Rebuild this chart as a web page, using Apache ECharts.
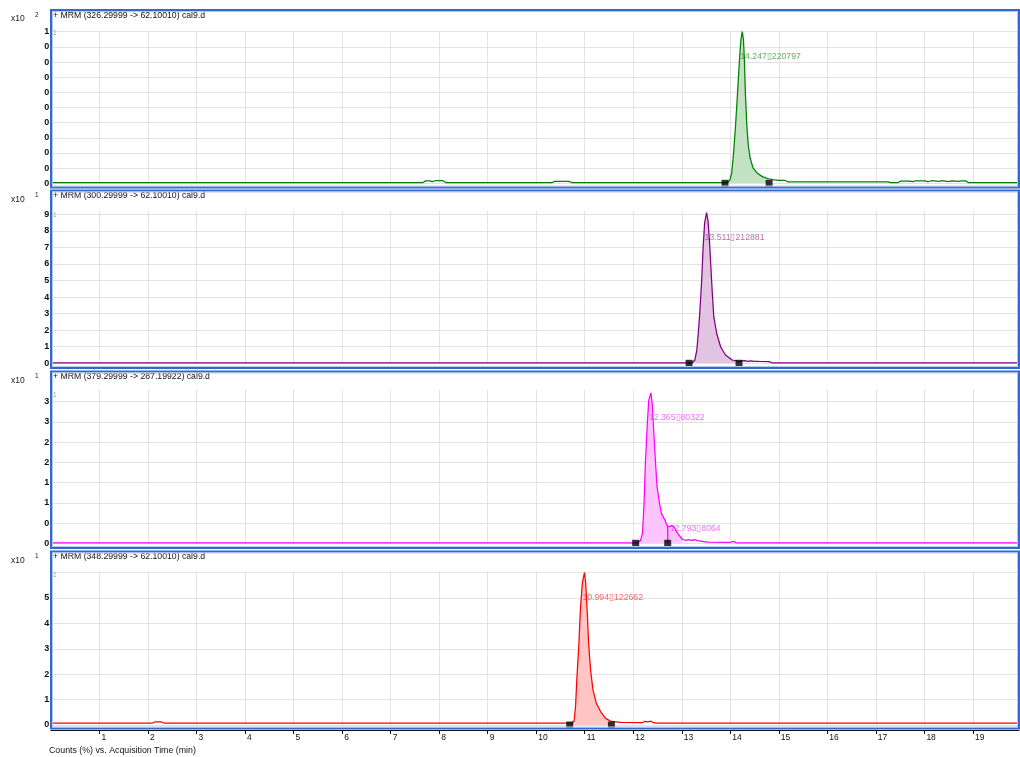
<!DOCTYPE html>
<html><head><meta charset="utf-8">
<script src="https://cdn.jsdelivr.net/npm/echarts@6/dist/echarts.min.js"></script>
<style>html,body{margin:0;padding:0;background:#fff}#c{width:1020px;height:757px}</style>
</head><body><div id="c"></div>
<script>
// ---------------- data ----------------
const panelTitles = [
  '+ MRM (326.29999 -> 62.10010) cal9.d',
  '+ MRM (300.29999 -> 62.10010) cal9.d',
  '+ MRM (379.29999 -> 287.19922) cal9.d',
  '+ MRM (348.29999 -> 62.10010) cal9.d'
];
const yExponents = ['2', '1', '1', '1'];
const xAxisTitle = 'Counts (%) vs. Acquisition Time (min)';
const xTickValues = [1,2,3,4,5,6,7,8,9,10,11,12,13,14,15,16,17,18,19];
const xTickLabels = ['1','2','3','4','5','6','7','8','9','10','11','12','13','14','15','16','17','18','19'];

const yTicks1 = [0,0.1,0.2,0.3,0.4,0.5,0.6,0.7,0.8,0.9,1.0];
const yTickLabels1 = ['0','0','0','0','0','0','0','0','0','0','1'];
const yTicks2 = [0,1,2,3,4,5,6,7,8,9];
const yTickLabels2 = ['0','1','2','3','4','5','6','7','8','9'];
const yTicks3 = [0,0.5,1,1.5,2,2.5,3,3.5];
const yTickLabels3 = ['0','0','1','1','2','2','3','3'];
const yTicks4 = [0,1,2,3,4,5,6];
const yTickLabels4 = ['0','1','2','3','4','5',''];

const trace1 = [[0,0.004],[7.66,0.004],[7.72,0.016],[7.8,0.016],[7.86,0.011],[7.92,0.017],[8.08,0.017],[8.14,0.004],
  [10.32,0.004],[10.38,0.013],[10.68,0.013],[10.74,0.004],
  [13.93,0.004],[13.99,0.02],[14.03,0.07],[14.07,0.21],[14.11,0.39],[14.15,0.6],[14.19,0.82],[14.22,0.95],[14.247,1.0],
  [14.27,0.95],[14.29,0.82],[14.31,0.6],[14.34,0.385],[14.37,0.25],[14.41,0.165],[14.47,0.1],[14.56,0.066],[14.66,0.044],
  [14.79,0.03],[14.9,0.022],[15.0,0.02],[15.12,0.02],[15.18,0.01],[17.25,0.009],[17.31,0.004],[17.45,0.004],
  [17.51,0.015],[17.7,0.015],[17.76,0.011],[17.82,0.016],[18.02,0.016],[18.08,0.01],[18.14,0.017],[18.3,0.012],[18.36,0.017],
  [18.5,0.011],[18.56,0.016],[18.7,0.012],[18.76,0.016],[18.85,0.016],[18.91,0.004],[19.95,0.004]];
const trace2 = [[0,0.02],[13.21,0.02],[13.27,0.2],[13.31,0.8],[13.34,1.8],[13.37,3.0],[13.41,5.0],[13.44,7.0],[13.47,8.45],
  [13.511,9.1],[13.54,8.65],[13.57,7.45],[13.6,5.8],[13.63,4.2],[13.66,2.8],[13.72,1.8],[13.8,1.0],[13.9,0.5],[14.04,0.2],
  [14.18,0.1],[14.24,0.15],[14.3,0.16],[14.36,0.12],[14.42,0.15],[14.5,0.12],[14.6,0.11],[14.8,0.1],[14.86,0.02],[19.95,0.02]];
const trace3 = [[0,0.012],[12.09,0.012],[12.15,0.07],[12.19,0.25],[12.22,0.9],[12.25,1.98],[12.29,2.97],[12.32,3.54],[12.365,3.72],
  [12.39,3.46],[12.42,2.8],[12.46,1.98],[12.49,1.4],[12.54,0.99],[12.58,0.74],[12.65,0.58],[12.7,0.43],[12.745,0.41],
  [12.793,0.44],[12.84,0.41],[12.91,0.25],[13.01,0.1],[13.08,0.07],[13.14,0.09],[13.2,0.07],[13.26,0.09],[13.34,0.06],[13.53,0.03],
  [14.0,0.02],[14.06,0.05],[14.12,0.012],[19.95,0.012]];
const trace4 = [[0,0.07],[2.08,0.07],[2.14,0.12],[2.28,0.12],[2.34,0.07],[10.72,0.07],[10.78,0.15],[10.81,0.72],[10.84,1.9],
  [10.88,3.22],[10.91,4.53],[10.95,5.58],[10.994,6.0],[11.02,5.58],[11.05,4.53],[11.08,3.22],[11.12,2.17],[11.17,1.38],[11.24,0.85],
  [11.33,0.52],[11.43,0.26],[11.55,0.14],[11.74,0.1],[12.18,0.09],[12.24,0.14],[12.3,0.12],[12.36,0.15],[12.42,0.09],[12.5,0.07],[19.95,0.07]];

const peakRT1 = [14.247], peakArea1 = ['220797'], peakHeight1 = [1.0];
const peakRT2 = [13.511], peakArea2 = ['212881'], peakHeight2 = [9.1];
const peakRT3 = [12.365, 12.793], peakArea3 = ['80322', '8064'], peakHeight3 = [3.72, 0.44];
const peakRT4 = [10.994], peakArea4 = ['122662'], peakHeight4 = [6.0];

const markers1 = [[13.89,0],[14.80,0]];
const markers2 = [[13.15,0],[14.18,0]];
const markers3 = [[12.05,0],[12.71,0]];
const markers4 = [[10.69,0],[11.55,0]];
const fillWindow1 = [13.89,14.80];
const fillWindow2 = [13.15,14.18];
const fillWindow3 = [12.05,13.01];
const fillWindow4 = [10.69,11.55];
const dropLine3 = [[12.71,0],[12.71,0.42]];

// ---------------- layout / style ----------------
const FONT = "'Liberation Sans', Arial, sans-serif";
const gridTop = [31.7, 211.0, 389.6, 571.3];
const gridH = [151.6, 152.3, 153.7, 153.7];
const yMax = [1.0, 9.2, 3.8, 6.05];
const yInterval = [0.1, 1, 0.5, 1];
const frameTop = [10, 190.5, 371.5, 551.5];
const frameBottom = [187.5, 368, 548, 728.5];
const greyOneY = [33.5, 215.7, 395, 575];
const lineColor = ['#008000', '#800080', '#ff00ff', '#ff0000'];
const fillColor = ['#c2e2c2', '#e2c4e2', '#ffc4ff', '#ffc4c4'];
const labelColor = ['#3c9a3c', '#a04ca0', '#ff44ff', '#ff3c3c'];
const LABEL_FRAC = 0.835;

const panels = [
  {trace: trace1, rt: peakRT1, area: peakArea1, h: peakHeight1, markers: markers1, win: fillWindow1, ticks: yTicks1, tl: yTickLabels1},
  {trace: trace2, rt: peakRT2, area: peakArea2, h: peakHeight2, markers: markers2, win: fillWindow2, ticks: yTicks2, tl: yTickLabels2},
  {trace: trace3, rt: peakRT3, area: peakArea3, h: peakHeight3, markers: markers3, win: fillWindow3, ticks: yTicks3, tl: yTickLabels3, drop: dropLine3},
  {trace: trace4, rt: peakRT4, area: peakArea4, h: peakHeight4, markers: markers4, win: fillWindow4, ticks: yTicks4, tl: yTickLabels4}
];

const grids = [], xAxes = [], yAxes = [], series = [], graphics = [], titles = [];
panels.forEach((p, i) => {
  grids.push({left: 51, right: 1, top: gridTop[i], height: gridH[i], containLabel: false, outerBoundsMode: 'none'});
  const isLast = i === panels.length - 1;
  xAxes.push({
    type: 'value', gridIndex: i, min: 0, max: 19.95, interval: 1,
    position: 'bottom', offset: isLast ? 5.5 : 0,
    axisLine: {show: isLast, onZero: false, lineStyle: {color: '#111', width: 1.2}},
    axisTick: {show: isLast, length: 3.5, lineStyle: {color: '#111'}},
    axisLabel: {show: isLast, showMinLabel: false, showMaxLabel: false, margin: 2.5, align: 'left', padding: [0,0,0,2],
      fontSize: 8.5, color: '#111', fontFamily: FONT,
      formatter: v => { const k = xTickValues.findIndex(t => Math.abs(t - v) < 1e-6); return k >= 0 ? xTickLabels[k] : ''; }},
    splitLine: {show: true, lineStyle: {color: '#e3e3e3', width: 1}}
  });
  yAxes.push({
    type: 'value', gridIndex: i, min: 0, max: yMax[i], interval: yInterval[i], offset: 2.5,
    axisLine: {show: true, lineStyle: {color: '#111', width: 1.6}},
    axisTick: {show: false},
    axisLabel: {margin: -0.8, fontSize: 9, fontWeight: 'bold', color: '#111', fontFamily: FONT, showMaxLabel: i === 0,
      formatter: v => { const k = p.ticks.findIndex(t => Math.abs(t - v) < 1e-6); return k >= 0 ? p.tl[k] : ''; }},
    splitLine: {show: true, showMaxLine: i === 0, lineStyle: {color: '#e3e3e3', width: 1}}
  });
  // integration fill
  const fillData = [[p.win[0], 0]].concat(p.trace.filter(d => d[0] >= p.win[0] && d[0] <= p.win[1])).concat([[p.win[1], 0]]);
  series.push({type: 'line', xAxisIndex: i, yAxisIndex: i, data: fillData, showSymbol: false, silent: true, z: 1,
    lineStyle: {width: 0, opacity: 0}, areaStyle: {color: fillColor[i], opacity: 1}});
  // peak labels
  series.push({type: 'scatter', xAxisIndex: i, yAxisIndex: i, symbolSize: 0, silent: true, z: 2,
    data: p.rt.map((rt, k) => [rt, p.h[k] * LABEL_FRAC, rt.toFixed(3) + '\u25AF' + p.area[k]]),
    label: {show: true, position: 'right', distance: -2, color: labelColor[i], fontSize: 8.7, fontFamily: FONT,
      formatter: q => q.data[2]}});
  // trace
  series.push({type: 'line', xAxisIndex: i, yAxisIndex: i, data: p.trace, showSymbol: false, silent: true, z: 3,
    lineStyle: {color: lineColor[i], width: 1.25}});
  if (p.drop) {
    series.push({type: 'line', xAxisIndex: i, yAxisIndex: i, data: p.drop, showSymbol: false, silent: true, z: 3,
      lineStyle: {color: lineColor[i], width: 1.3}});
  }
  // integration markers
  series.push({type: 'scatter', xAxisIndex: i, yAxisIndex: i, data: p.markers, symbol: 'rect', symbolSize: 7, silent: true, z: 4,
    itemStyle: {color: '#000'}});
  // titles
  titles.push({text: panelTitles[i], left: 53, top: frameTop[i] + 1, padding: 0,
    textStyle: {fontSize: 8.7, fontWeight: 'normal', color: '#111', fontFamily: FONT}});
  // frame
  graphics.push({type: 'rect', z: 100, silent: true,
    shape: {x: 51, y: frameTop[i], width: 968, height: frameBottom[i] - frameTop[i]},
    style: {fill: 'none', stroke: '#3468cf', lineWidth: 2}});
  graphics.push({type: 'rect', z: 100, silent: true,
    shape: {x: 52.5, y: frameTop[i] + 1.5, width: 965, height: frameBottom[i] - frameTop[i] - 3},
    style: {fill: 'none', stroke: '#b4caf0', lineWidth: 1}});
  graphics.push({type: 'text', z: 100, silent: true, x: 11, y: frameTop[i] + 9,
    style: {text: 'x10', fontSize: 8.5, fill: '#222', fontFamily: FONT, verticalAlign: 'middle'}});
  graphics.push({type: 'text', z: 100, silent: true, x: 35, y: frameTop[i] + 5,
    style: {text: yExponents[i], fontSize: 6.5, fill: '#222', fontFamily: FONT, verticalAlign: 'middle'}});
  graphics.push({type: 'text', z: 100, silent: true, x: 53, y: greyOneY[i],
    style: {text: '1', fontSize: 6.5, fill: '#999', fontFamily: FONT, verticalAlign: 'middle'}});
});
titles.push({text: xAxisTitle, left: 49, top: 746, padding: 0,
  textStyle: {fontSize: 8.8, fontWeight: 'normal', color: '#111', fontFamily: FONT}});

const chart = echarts.init(document.getElementById('c'), null, {renderer: 'canvas'});
chart.setOption({
  animation: false,
  backgroundColor: '#fff',
  title: titles,
  grid: grids,
  xAxis: xAxes,
  yAxis: yAxes,
  series: series,
  graphic: graphics
});
</script></body></html>
